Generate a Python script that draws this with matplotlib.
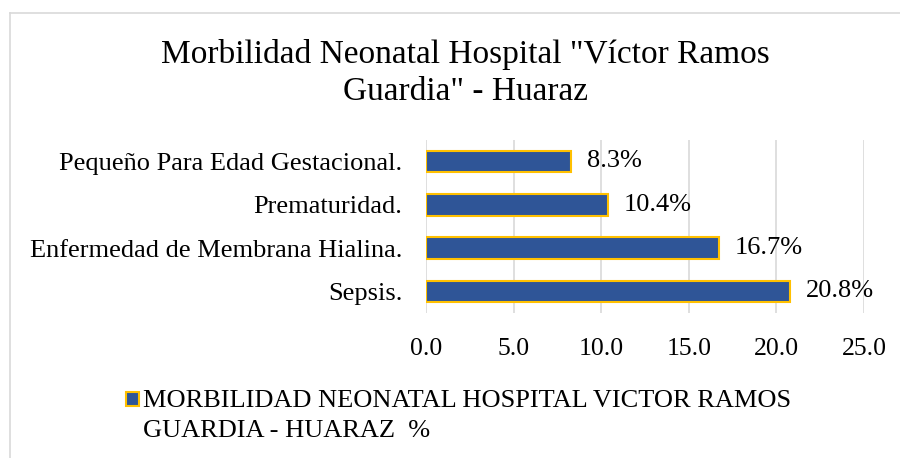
import matplotlib
matplotlib.use("Agg")
import matplotlib.pyplot as plt
from matplotlib.lines import Line2D
from matplotlib.patches import Rectangle

categories = ["Sepsis.", "Enfermedad de Membrana Hialina.", "Prematuridad.", "Pequeño Para Edad Gestacional."]
values = [20.8, 16.7, 10.4, 8.3]
xticks = [0, 5, 10, 15, 20, 25]
title_lines = ['Morbilidad Neonatal Hospital "Víctor Ramos', 'Guardia" - Huaraz']
legend_lines = ["MORBILIDAD NEONATAL HOSPITAL VICTOR RAMOS", "GUARDIA - HUARAZ  %"]

plt.rcParams['font.family'] = ['Liberation Serif', 'DejaVu Serif']

W, H = 900.0, 458.0
fig = plt.figure(figsize=(9, 4.58), dpi=100)
ax = fig.add_axes([0.4733, 0.3166, 0.4867, 0.3784])

bar_color = "#2F5597"
edge_color = "#FFC000"
ypos = list(range(len(categories)))
ax.barh(ypos, values, height=0.5, color=bar_color, edgecolor=edge_color, linewidth=1.5, zorder=3)
for y, v in zip(ypos, values):
    ax.text(v + 0.9, y, f"{v:.1f}%", va="center", ha="left", fontsize=19, color="#000000")

ax.set_xlim(0, 25)
ax.set_ylim(-0.5, len(categories) - 0.5)
ax.set_yticks(ypos)
ax.set_yticklabels(categories, fontsize=19)
ax.set_xticks(xticks)
ax.set_xticklabels([f"{t:.1f}" for t in xticks], fontsize=18.5)
ax.tick_params(axis="both", length=0)
ax.tick_params(axis="x", pad=18)
ax.tick_params(axis="y", pad=17)
ax.grid(axis="x", color="#D9D9D9", linewidth=1.2, zorder=0)
for s in ax.spines.values():
    s.set_visible(False)

# title (two lines, placed on their baselines)
for txt, base in zip(title_lines, [63, 100]):
    fig.text(465/W, 1 - base/H, txt, ha="center", va="baseline", fontsize=24)

# legend (handle + two-line label)
fig.add_artist(Rectangle((126/W, 1 - 406/H), 13/W, 14/H, transform=fig.transFigure,
                         facecolor=bar_color, edgecolor=edge_color, linewidth=1.5))
for txt, base in zip(legend_lines, [407, 437]):
    fig.text(143/W, 1 - base/H, txt, ha="left", va="baseline", fontsize=19)

# chart border
fig.add_artist(Line2D([10/W, 1.0], [1 - 13/H, 1 - 13/H], transform=fig.transFigure, color="#D9D9D9", linewidth=1.2))
fig.add_artist(Line2D([10/W, 10/W], [0, 1 - 13/H], transform=fig.transFigure, color="#D9D9D9", linewidth=1.2))

fig.savefig("out.png", dpi=100)
